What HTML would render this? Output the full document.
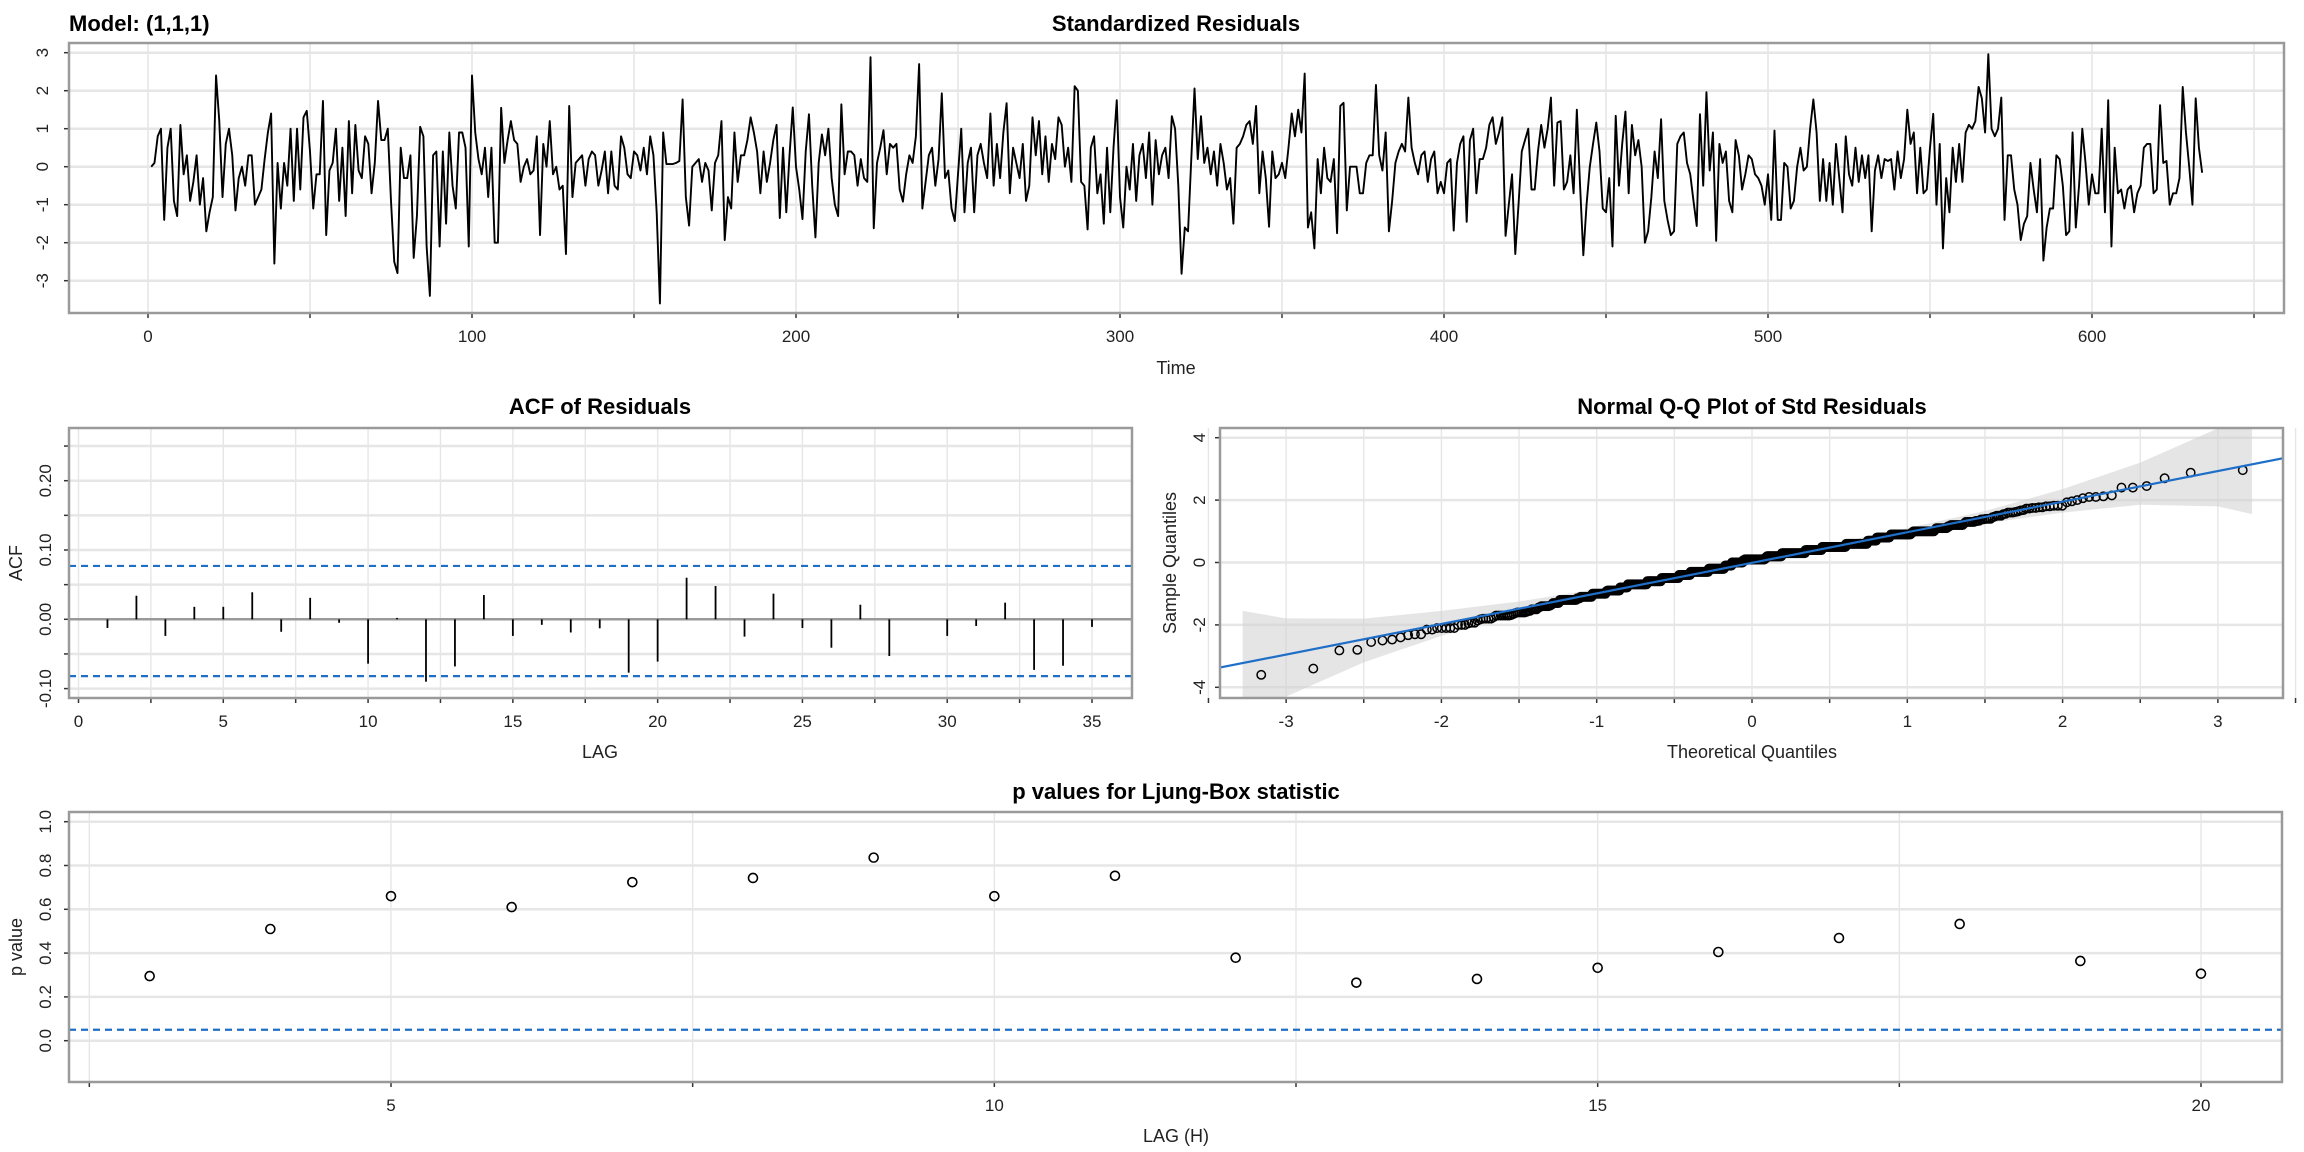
<!DOCTYPE html>
<html><head><meta charset="utf-8"><title>sarima diagnostics</title>
<style>
html,body{margin:0;padding:0;background:#fff;}
svg{display:block;font-family:"Liberation Sans",Arial,sans-serif;}
</style></head>
<body>
<svg id="chart" xmlns="http://www.w3.org/2000/svg" width="2304" height="1152" viewBox="0 0 2304 1152"></svg>
<script>
// ---------- data ----------
const residuals = [
0.0,0.1,0.8,1.0,-1.4,0.5,1.0,-0.9,-1.3,1.1,
-0.2,0.3,-0.9,-0.4,0.3,-1.0,-0.3,-1.7,-1.2,-0.8,
2.4,1.2,-0.8,0.6,1.0,0.3,-1.15,-0.3,0.0,-0.5,
0.3,0.3,-1.0,-0.8,-0.6,0.2,0.9,1.4,-2.55,0.1,
-1.1,0.1,-0.5,1.0,-0.9,1.0,-0.6,1.3,1.47,0.4,
-1.1,-0.2,-0.2,1.73,-1.8,-0.1,0.1,1.0,-0.9,0.5,
-1.3,1.2,-0.7,1.1,-0.1,-0.3,0.8,0.6,-0.7,0.1,
1.73,0.7,0.7,1.0,-0.9,-2.5,-2.8,0.5,-0.3,-0.3,
0.3,-2.4,-1.3,1.05,0.8,-2.1,-3.4,0.3,0.4,-2.1,
0.4,-1.5,0.9,-0.5,-1.1,0.9,0.9,0.5,-2.1,2.4,
0.9,0.2,-0.2,0.5,-0.8,0.5,-2.0,-2.0,1.55,0.1,
0.7,1.2,0.7,0.6,-0.4,0.0,0.2,-0.2,-0.1,0.8,
-1.8,0.6,0.0,1.2,-0.2,0.0,-0.6,-0.5,-2.3,1.6,
-0.8,0.1,0.2,0.3,-0.5,0.2,0.4,0.3,-0.5,-0.1,
0.4,-0.7,0.4,-0.5,-0.6,0.8,0.5,-0.2,-0.3,0.4,
0.3,-0.1,0.5,-0.2,0.8,0.3,-1.2,-3.6,0.9,0.07,
0.07,0.07,0.1,0.15,1.77,-0.8,-1.55,0.0,0.1,0.2,
-0.4,0.1,-0.1,-1.15,0.1,0.3,1.2,-1.93,-0.8,-1.1,
0.9,-0.4,0.3,0.3,0.7,1.3,0.9,0.4,-0.7,0.4,
-0.4,0.1,0.7,1.1,-1.35,0.5,-1.2,0.3,1.56,0.0,
-0.6,-1.38,0.4,1.38,-0.5,-1.86,0.1,0.85,0.3,1.0,
-0.3,-1.0,-1.3,1.64,-0.2,0.4,0.4,0.3,-0.5,0.2,
-0.3,-0.4,2.88,-1.62,0.1,0.5,0.96,-0.2,0.6,0.5,
0.6,-0.6,-0.92,-0.2,0.3,0.1,0.8,2.7,-1.1,-0.4,
0.3,0.5,-0.5,0.2,1.93,-0.3,-0.1,-1.1,-1.43,-0.2,
1.0,-1.2,0.1,0.5,-1.2,0.3,0.6,0.1,-0.3,1.4,
-0.5,0.6,-0.3,0.9,1.67,-0.7,0.5,0.1,-0.3,0.6,
-0.9,-0.5,1.3,0.3,1.2,-0.2,0.8,-0.4,0.6,0.2,
1.3,1.1,0.0,0.5,-0.4,2.12,2.0,-0.4,-0.5,-1.65,
0.5,0.8,-0.7,-0.2,-1.5,0.5,-1.2,0.5,1.75,-0.8,
-1.6,0.0,-0.6,0.6,-0.9,0.3,0.6,-0.3,0.9,-1.0,
0.7,-0.2,0.3,0.5,-0.3,1.33,1.0,-0.5,-2.82,-1.6,
-1.7,0.2,2.06,0.2,1.33,0.1,0.5,-0.2,0.4,-0.5,
0.6,0.1,-0.6,-0.3,-1.5,0.5,0.6,0.8,1.1,1.2,
0.6,1.6,-0.7,0.4,-0.3,-1.58,0.4,-0.3,-0.2,0.1,
-0.3,0.5,1.4,0.8,1.5,0.9,2.45,-1.6,-1.2,-2.15,
0.2,-0.7,0.5,-0.3,-0.4,0.2,-1.75,1.6,1.68,-1.15,
0.0,0.0,0.0,-0.7,-0.7,0.1,0.3,0.3,2.15,0.3,
-0.1,0.9,-1.7,-0.9,0.1,0.4,0.6,0.4,1.82,0.5,
0.1,-0.2,0.3,0.4,-0.4,0.2,0.4,-0.7,-0.4,-0.7,
0.1,0.2,-1.68,0.1,0.6,0.8,-1.45,0.7,1.0,-0.7,
0.2,0.2,0.5,1.1,1.3,0.6,0.9,1.3,-1.82,-1.0,
-0.2,-2.3,-1.0,0.4,0.7,1.0,-0.6,-0.6,0.4,1.1,
0.5,1.0,1.82,-0.5,1.16,1.2,-0.6,-0.4,0.3,-0.7,
1.5,-0.5,-2.33,-1.0,0.0,0.6,1.16,0.4,-1.1,-1.2,
-0.3,-2.1,1.34,-0.5,0.6,1.45,-0.7,1.1,0.3,0.7,
0.0,-2.0,-1.7,-0.8,0.4,-0.3,1.25,-0.9,-1.4,-1.8,
-1.7,0.6,0.8,0.9,0.1,-0.2,-0.9,-1.56,1.38,-0.5,
1.96,-0.1,0.9,-1.95,0.6,0.1,0.4,-0.9,-1.2,0.7,
0.3,-0.6,-0.2,0.3,0.2,-0.2,-0.3,-0.5,-1.0,-0.2,
-1.4,0.95,-1.4,-1.4,0.1,0.0,-1.1,-0.9,0.0,0.5,
-0.1,0.0,1.0,1.77,0.9,-0.9,0.2,-0.9,0.1,-1.0,
0.6,-0.3,-1.2,0.8,-0.2,-0.5,0.5,-0.4,0.3,-0.3,
0.3,-1.7,-0.1,0.3,-0.3,0.2,0.15,0.2,-0.6,0.4,
-0.3,0.2,1.5,0.6,0.9,-0.7,0.5,-0.7,-0.6,0.5,
1.39,-1.0,0.6,-2.15,-0.3,-1.2,0.5,-0.4,0.6,-0.4,
0.9,1.1,1.0,1.2,2.1,1.8,0.9,2.96,1.0,0.8,
1.0,1.82,-1.4,0.3,0.3,-0.6,-1.0,-1.93,-1.5,-1.3,
0.1,-0.6,-1.2,0.2,-2.47,-1.6,-1.1,-1.1,0.3,0.2,
-0.5,-1.8,-1.7,0.9,-1.6,-0.5,1.0,0.1,-1.0,-0.2,
-0.7,-0.7,1.0,-1.2,1.75,-2.1,0.5,-0.7,-0.6,-1.1,
-0.6,-0.5,-1.2,-0.7,-0.5,0.5,0.6,0.6,-0.7,-0.6,
1.62,0.1,0.15,-1.0,-0.7,-0.7,-0.3,2.1,0.9,0.0,
-1.0,1.8,0.5,-0.16];
const timeTicks = [0,100,200,300,400,500,600];
const residTicks = [-3,-2,-1,0,1,2,3];

const acfLags = [1,2,3,4,5,6,7,8,9,10,11,12,13,14,15,16,17,18,19,20,21,22,23,24,25,26,27,28,29,30,31,32,33,34,35];
const acfValues = [-0.0125,0.034,-0.024,0.018,0.018,0.039,-0.018,0.031,-0.005,-0.064,0.002,-0.090,-0.068,0.035,-0.024,-0.008,-0.019,-0.013,-0.077,-0.061,0.060,0.048,-0.025,0.037,-0.0125,-0.041,0.021,-0.053,0.0,-0.024,-0.0096,0.024,-0.073,-0.067,-0.011];
const acfBounds = [0.077,-0.082];
const acfXTicks = [0,5,10,15,20,25,30,35];
const acfYTicks = [-0.10,0.00,0.10,0.20];
const acfYTickLabels = ["-0.10","0.00","0.10","0.20"];

const qqBandX  = [-3.28,-3.0,-2.5,-2.0,-1.5,-1.0,0.0,1.0,1.5,2.0,2.5,3.0,3.22];
const qqBandHi = [-1.55,-1.79,-1.80,-1.55,-1.25,-0.85,0.07,1.10,1.65,2.35,3.20,4.30,4.50];
const qqBandLo = [-4.50,-4.30,-3.20,-2.35,-1.65,-1.10,-0.07,0.85,1.25,1.60,1.85,1.80,1.55];
const qqLineSlope = 0.98;
const qqLineIntercept = -0.01;
const qqXTicks = [-3,-2,-1,0,1,2,3];
const qqYTicks = [-4,-2,0,2,4];

const lbLags = [3,4,5,6,7,8,9,10,11,12,13,14,15,16,17,18,19,20];
const lbPValues = [0.295,0.51,0.66,0.61,0.724,0.743,0.836,0.66,0.753,0.379,0.265,0.282,0.333,0.405,0.469,0.533,0.364,0.306];
const lbXTicks = [5,10,15,20];
const lbYTicks = [0,0.2,0.4,0.6,0.8,1.0];
const lbYTickLabels = ["0.0","0.2","0.4","0.6","0.8","1.0"];
const lbSignif = 0.05;

// ---------- helpers ----------
const NS = "http://www.w3.org/2000/svg";
const svg = document.getElementById("chart");
function mk(tag, attrs, parent) {
  const e = document.createElementNS(NS, tag);
  for (const k in attrs) e.setAttribute(k, attrs[k]);
  (parent || svg).appendChild(e);
  return e;
}
function txt(s, attrs, parent) { const e = mk("text", attrs, parent); e.textContent = s; return e; }
function lin(a,b,c,d){ return v => c + (v - a) * (d - c) / (b - a); }
const GRID = "#e6e6e6";

function frame(g, L, T, R, B) {
  const r = mk("rect", {x:L, y:T, width:R-L, height:B-T, fill:"none", stroke:"#9a9a9a", "stroke-width":2.5}, g);
  
  
}

// ================= Panel 1: Standardized residuals =================
(function(){
  const g = mk("g", {});
  
  
  const L=69, R=2284, T=43, B=313;
  const x = lin(0, 100, 148, 472);
  const y = lin(0, 1, 166.7, 128.7);
  for (let v = 0; v <= 650; v += 50) {
    const gl = mk("line", {x1:x(v), x2:x(v), y1:T, y2:B, stroke:GRID, "stroke-width":1.6}, g);
    
    
    const tk = mk("line", {x1:x(v), x2:x(v), y1:B, y2:B+5, stroke:"#333", "stroke-width":1.5}, g);
    
    
  }
  residTicks.forEach(v => {
    const gl = mk("line", {x1:L, x2:R, y1:y(v), y2:y(v), stroke:GRID, "stroke-width":2.5}, g);
    
    
    const tk = mk("line", {x1:L-5, x2:L, y1:y(v), y2:y(v), stroke:"#333", "stroke-width":1.5}, g);
    
    
    const t = txt(String(v), {x:48, y:y(v), "font-size":17, "text-anchor":"middle", transform:`rotate(-90 48 ${y(v)})`, fill:"#222"}, g);
    
    
  });
  timeTicks.forEach(v => {
    const t = txt(String(v), {x:x(v), y:342, "font-size":17, "text-anchor":"middle", fill:"#222"}, g);
    
    
  });
  frame(g, L, T, R, B);
  const pts = residuals.map((v,i) => `${x(i+1).toFixed(2)},${y(v).toFixed(2)}`).join(" ");
  const pl = mk("polyline", {points:pts, fill:"none", stroke:"#000", "stroke-width":1.9, "stroke-linejoin":"round"}, g);
  
  
  const t1 = txt("Model: (1,1,1)", {x:69, y:31, "font-size":22, "font-weight":"bold", fill:"#000"}, g);
  
  
  const t2 = txt("Standardized Residuals", {x:1176, y:31, "font-size":22, "font-weight":"bold", "text-anchor":"middle", fill:"#000"}, g);
  
  
  const t3 = txt("Time", {x:1176, y:374, "font-size":18, "text-anchor":"middle", fill:"#222"}, g);
  
  
})();

// ================= Panel 2: ACF =================
(function(){
  const g = mk("g", {});
  
  
  const L=69, R=1132, T=428, B=698;
  const x = lin(0, 35, 78.5, 1092);
  const y = lin(0, 0.1, 619.3, 550);
  for (let v = 0; v <= 35; v += 2.5) {
    const gl = mk("line", {x1:x(v), x2:x(v), y1:T, y2:B, stroke:GRID, "stroke-width":1.4}, g);
    
    
    const tk = mk("line", {x1:x(v), x2:x(v), y1:B, y2:B+5, stroke:"#333", "stroke-width":1.5}, g);
    
    
  }
  for (let v = -0.10; v <= 0.2501; v += 0.05) {
    const gl = mk("line", {x1:L, x2:R, y1:y(v), y2:y(v), stroke:GRID, "stroke-width":2.5}, g);
    
    
    const tk = mk("line", {x1:L-5, x2:L, y1:y(v), y2:y(v), stroke:"#333", "stroke-width":1.5}, g);
    
    
  }
  acfYTicks.forEach((v,i) => {
    const t = txt(acfYTickLabels[i], {x:51, y:y(v), "font-size":17, "text-anchor":"middle", transform:`rotate(-90 51 ${y(v)})`, fill:"#222"}, g);
    
    
  });
  acfXTicks.forEach(v => {
    const t = txt(String(v), {x:x(v), y:727, "font-size":17, "text-anchor":"middle", fill:"#222"}, g);
    
    
  });
  const zl = mk("line", {x1:L, x2:R, y1:y(0), y2:y(0), stroke:"#999", "stroke-width":2.5}, g);
  
  
  acfBounds.forEach(v => {
    const d = mk("line", {x1:L, x2:R, y1:y(v), y2:y(v), stroke:"#1f6fc8", "stroke-width":2.2, "stroke-dasharray":"7,5"}, g);
    
    
  });
  acfLags.forEach((lag,i) => {
    const b = mk("line", {x1:x(lag), x2:x(lag), y1:y(0), y2:y(acfValues[i]), stroke:"#000", "stroke-width":1.8}, g);
    
    
  });
  frame(g, L, T, R, B);
  const t1 = txt("ACF of Residuals", {x:600, y:414, "font-size":22, "font-weight":"bold", "text-anchor":"middle"}, g);
  
  
  const t2 = txt("ACF", {x:22, y:563, "font-size":18, "text-anchor":"middle", transform:"rotate(-90 22 563)", fill:"#222"}, g);
  
  
  const t3 = txt("LAG", {x:600, y:758, "font-size":18, "text-anchor":"middle", fill:"#222"}, g);
  
  
})();

// ================= Panel 3: Normal Q-Q =================
function qnorm(p){
  const a=[-39.6968302866538,220.946098424521,-275.928510446969,138.357751867269,-30.6647980661472,2.50662827745924];
  const b=[-54.4760987982241,161.585836858041,-155.698979859887,66.8013118877197,-13.2806815528857];
  const c=[-0.00778489400243029,-0.322396458041136,-2.40075827716184,-2.54973253934373,4.37466414146497,2.93816398269878];
  const d=[0.00778469570904146,0.32246712907004,2.445134137143,3.75440866190742];
  let q,r;
  if (p < 0.02425){ q=Math.sqrt(-2*Math.log(p)); return (((((c[0]*q+c[1])*q+c[2])*q+c[3])*q+c[4])*q+c[5])/((((d[0]*q+d[1])*q+d[2])*q+d[3])*q+1); }
  if (p > 1-0.02425){ q=Math.sqrt(-2*Math.log(1-p)); return -(((((c[0]*q+c[1])*q+c[2])*q+c[3])*q+c[4])*q+c[5])/((((d[0]*q+d[1])*q+d[2])*q+d[3])*q+1); }
  q=p-0.5; r=q*q;
  return (((((a[0]*r+a[1])*r+a[2])*r+a[3])*r+a[4])*r+a[5])*q/(((((b[0]*r+b[1])*r+b[2])*r+b[3])*r+b[4])*r+1);
}
(function(){
  const g = mk("g", {});
  
  
  const L=1220, R=2283, T=428, B=698;
  const x = lin(0, 1, 1752, 1907.3);
  const y = lin(0, 1, 562.5, 531.3);
  const clip = mk("clipPath", {id:"qqclip"}, g);
  mk("rect", {x:L, y:T, width:R-L, height:B-T}, clip);
  for (let v = -3.5; v <= 3.5; v += 0.5) {
    const gl = mk("line", {x1:x(v), x2:x(v), y1:T, y2:B, stroke:GRID, "stroke-width":1.4}, g);
    
    
    const tk = mk("line", {x1:x(v), x2:x(v), y1:B, y2:B+5, stroke:"#333", "stroke-width":1.5}, g);
    
    
  }
  qqYTicks.forEach(v => {
    const gl = mk("line", {x1:L, x2:R, y1:y(v), y2:y(v), stroke:GRID, "stroke-width":2.5}, g);
    
    
    const tk = mk("line", {x1:L-5, x2:L, y1:y(v), y2:y(v), stroke:"#333", "stroke-width":1.5}, g);
    
    
    const t = txt(String(v), {x:1205, y:y(v), "font-size":17, "text-anchor":"middle", transform:`rotate(-90 1205 ${y(v)})`, fill:"#222"}, g);
    
    
  });
  qqXTicks.forEach(v => {
    const t = txt(String(v), {x:x(v), y:727, "font-size":17, "text-anchor":"middle", fill:"#222"}, g);
    
    
  });
  const bandPts = qqBandX.map((v,i)=>`${x(v)},${y(qqBandHi[i])}`).concat(qqBandX.slice().reverse().map((v,i)=>`${x(v)},${y(qqBandLo[qqBandX.length-1-i])}`)).join(" ");
  const band = mk("polygon", {points:bandPts, fill:"#cfcfcf", "fill-opacity":0.55, stroke:"none", "clip-path":"url(#qqclip)"}, g);
  
  
  const sorted = residuals.slice().sort((a,b)=>a-b);
  const n = sorted.length;
  const pg = mk("g", {fill:"none", stroke:"#000", "stroke-width":1.5}, g);
  
  
  sorted.forEach((v,i) => {
    const th = qnorm((i+0.5)/n);
    const c = mk("circle", {cx:x(th), cy:y(v), r:4.2}, pg);
    
    
  });
  const xa=-3.45, xb=3.45;
  const ql = mk("line", {x1:x(xa), y1:y(qqLineIntercept+qqLineSlope*xa), x2:x(xb), y2:y(qqLineIntercept+qqLineSlope*xb), stroke:"#1f6fc8", "stroke-width":2.2, "clip-path":"url(#qqclip)"}, g);
  
  
  frame(g, L, T, R, B);
  const t1 = txt("Normal Q-Q Plot of Std Residuals", {x:1752, y:414, "font-size":22, "font-weight":"bold", "text-anchor":"middle"}, g);
  
  
  const t2 = txt("Sample Quantiles", {x:1176, y:563, "font-size":18, "text-anchor":"middle", transform:"rotate(-90 1176 563)", fill:"#222"}, g);
  
  
  const t3 = txt("Theoretical Quantiles", {x:1752, y:758, "font-size":18, "text-anchor":"middle", fill:"#222"}, g);
  
  
})();

// ================= Panel 4: Ljung-Box =================
(function(){
  const g = mk("g", {});
  
  
  const L=69, R=2282, T=812, B=1082;
  const x = lin(5, 20, 391, 2201);
  const y = lin(0, 1, 1040.7, 821.7);
  for (let v = 2.5; v <= 20; v += 2.5) {
    const gl = mk("line", {x1:x(v), x2:x(v), y1:T, y2:B, stroke:GRID, "stroke-width":1.4}, g);
    
    
    const tk = mk("line", {x1:x(v), x2:x(v), y1:B, y2:B+5, stroke:"#333", "stroke-width":1.5}, g);
    
    
  }
  lbYTicks.forEach((v,i) => {
    const gl = mk("line", {x1:L, x2:R, y1:y(v), y2:y(v), stroke:GRID, "stroke-width":2.5}, g);
    
    
    const tk = mk("line", {x1:L-5, x2:L, y1:y(v), y2:y(v), stroke:"#333", "stroke-width":1.5}, g);
    
    
    const t = txt(lbYTickLabels[i], {x:51, y:y(v), "font-size":17, "text-anchor":"middle", transform:`rotate(-90 51 ${y(v)})`, fill:"#222"}, g);
    
    
  });
  lbXTicks.forEach(v => {
    const t = txt(String(v), {x:x(v), y:1111, "font-size":17, "text-anchor":"middle", fill:"#222"}, g);
    
    
  });
  const d = mk("line", {x1:L, x2:R, y1:y(lbSignif), y2:y(lbSignif), stroke:"#1f6fc8", "stroke-width":2.2, "stroke-dasharray":"7,5"}, g);
  
  
  lbLags.forEach((lag,i) => {
    const c = mk("circle", {cx:x(lag), cy:y(lbPValues[i]), r:4.5, fill:"none", stroke:"#000", "stroke-width":1.6}, g);
    
    
  });
  frame(g, L, T, R, B);
  const t1 = txt("p values for Ljung-Box statistic", {x:1176, y:799, "font-size":22, "font-weight":"bold", "text-anchor":"middle"}, g);
  
  
  const t2 = txt("p value", {x:22, y:947, "font-size":18, "text-anchor":"middle", transform:"rotate(-90 22 947)", fill:"#222"}, g);
  
  
  const t3 = txt("LAG (H)", {x:1176, y:1142, "font-size":18, "text-anchor":"middle", fill:"#222"}, g);
  
  
})();
</script>
</body></html>
